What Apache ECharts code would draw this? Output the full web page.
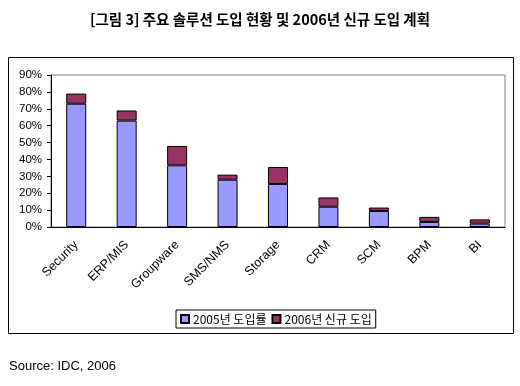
<!DOCTYPE html>
<html><head><meta charset="utf-8">
<script src="https://cdn.jsdelivr.net/npm/echarts@6/dist/echarts.min.js"></script>
<style>html,body{margin:0;padding:0;background:#fff}#c{width:520px;height:386px}</style>
</head><body><div id="c"></div>
<script>
var categories = ['Security','ERP/MIS','Groupware','SMS/NMS','Storage','CRM','SCM','BPM','BI'];
var adopt2005 = [73, 63, 36.5, 28, 25.5, 12, 9.5, 3, 2];
var new2006 = [6, 6, 11.5, 3, 10, 5.5, 2, 3, 2.5];
var seriesNames = ['2005년 도입률', '2006년 신규 도입'];
var titleText = '[그림 3] 주요 솔루션 도입 현황 및 2006년 신규 도입 계획';
var sourceText = 'Source: IDC, 2006';

var chart = echarts.init(document.getElementById('c'), null, {renderer:'canvas'});
var font = '"Noto Sans CJK KR", "Liberation Sans", sans-serif';
chart.setOption({
  animation: false,
  title: {text: titleText, left: 'center', top: 7,
    textStyle: {fontSize: 14.5, fontWeight: 'bold', color: '#000', fontFamily: font}},
  graphic: [
    {type: 'rect', shape: {x: 8.5, y: 57.5, width: 505, height: 276}, style: {fill: 'none', stroke: '#000', lineWidth: 1}, z: -1},
    {type: 'text', left: 9, top: 360, style: {text: sourceText, fontSize: 13, fill: '#000', fontFamily: '"Liberation Sans", sans-serif'}}
  ],
  legend: {
    data: seriesNames, left: 176, top: 310,
    borderColor: '#000', borderWidth: 1, padding: [3, 4, 3, 4],
    itemWidth: 8, itemHeight: 8, itemGap: 5, icon: 'rect',
    textStyle: {fontSize: 12, color: '#000', fontFamily: font, padding: [0, 0, 0, -1]}
  },
  grid: {left: 51, top: 75, right: 15, bottom: 159, show: true, borderColor: '#808080', borderWidth: 1, containLabel: false},
  xAxis: {
    type: 'category', data: categories,
    axisLine: {lineStyle: {color: '#000', width: 1}},
    axisTick: {inside: true, length: 3, lineStyle: {color: '#000'}},
    axisLabel: {rotate: 45, interval: 0, fontSize: 12.5, color: '#000', margin: 16, fontFamily: '"Liberation Sans", sans-serif'}
  },
  yAxis: {
    type: 'value', min: 0, max: 90, interval: 10,
    axisLine: {show: true, lineStyle: {color: '#000', width: 1}},
    axisTick: {show: true, length: 4, lineStyle: {color: '#000'}},
    splitLine: {show: false},
    axisLabel: {formatter: '{value}%', fontSize: 11.5, color: '#000', margin: 9, fontFamily: '"Liberation Sans", sans-serif'}
  },
  series: [
    {name: seriesNames[0], type: 'bar', stack: 's', data: adopt2005, barWidth: 20,
     itemStyle: {color: '#9999FF', borderColor: '#000', borderWidth: 1}},
    {name: seriesNames[1], type: 'bar', stack: 's', data: new2006, barWidth: 20,
     itemStyle: {color: '#993366', borderColor: '#000', borderWidth: 1}}
  ]
});
</script></body></html>
